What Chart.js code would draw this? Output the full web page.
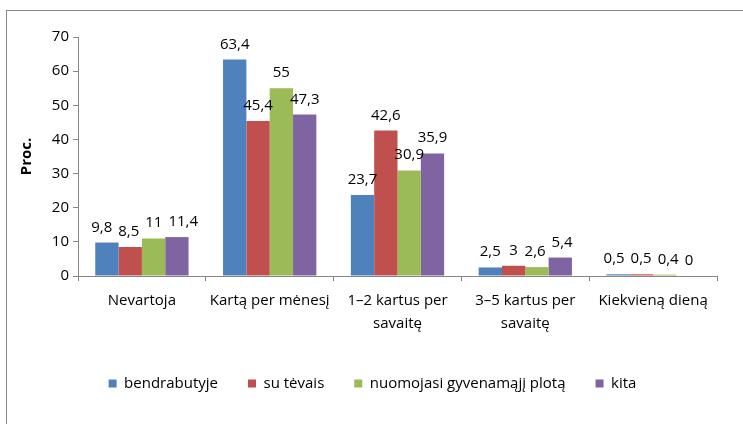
<!DOCTYPE html>
<html>
<head>
<meta charset="utf-8">
<script src="https://cdn.jsdelivr.net/npm/chart.js@4"></script>
<style>
  body { margin: 0; background: #fff; }
  #frame { position: absolute; left: 6px; top: 10px; width: 800px; height: 500px; border-top: 1px solid #868686; border-left: 1px solid #868686; }
  #wrap { position: absolute; left: 0; top: 0; width: 743px; height: 424px; }
</style>
</head>
<body>
<div id="frame"></div>
<div id="wrap"><canvas id="myChart"></canvas></div>
<script>
var categories = ['Nevartoja', 'Kartą per mėnesį', ['1–2 kartus per', 'savaitę'], ['3–5 kartus per', 'savaitę'], 'Kiekvieną dieną'];
var seriesNames = ['bendrabutyje', 'su tėvais', 'nuomojasi gyvenamąjį plotą', 'kita'];
var bendrabutyje = [9.8, 63.4, 23.7, 2.5, 0.5];
var suTevais = [8.5, 45.4, 42.6, 3, 0.5];
var nuomojasi = [11, 55, 30.9, 2.6, 0.4];
var kita = [11.4, 47.3, 35.9, 5.4, 0];
var yTicks = [0, 10, 20, 30, 40, 50, 60, 70];
var colors = ['#4F81BD', '#C0504D', '#9BBB59', '#8064A2'];

var fontFamily = '"Open Sans", sans-serif';
var axisColor = '#868686';

function fmt(v) {
    return String(v).replace('.', ',');
}

// labels above each bar, pushed apart when they collide (like Excel does)
var barLabels = {
    id: 'barLabels',
    afterDatasetsDraw: function(chart) {
        var ctx = chart.ctx;
        ctx.save();
        ctx.font = '15px ' + fontFamily;
        ctx.fillStyle = '#000';
        ctx.textAlign = 'center';
        ctx.textBaseline = 'alphabetic';
        var n = chart.data.labels.length;
        for (var j = 0; j < n; j++) {
            var items = [];
            chart.data.datasets.forEach(function(ds, i) {
                var bar = chart.getDatasetMeta(i).data[j];
                var txt = fmt(ds.data[j]);
                items.push({ txt: txt, x: bar.x, y: bar.y - 11, w: ctx.measureText(txt).width });
            });
            for (var k = 0; k < 20; k++) {
                for (var m = 0; m < items.length - 1; m++) {
                    var a = items[m], b = items[m + 1];
                    if (Math.abs(a.y - b.y) > 16) continue;
                    var over = (a.x + a.w / 2 + 6) - (b.x - b.w / 2);
                    if (over > 0) {
                        a.x -= over / 2;
                        b.x += over / 2;
                    }
                }
            }
            items.forEach(function(it) {
                ctx.fillText(it.txt, it.x, it.y);
            });
        }
        ctx.restore();
    }
};

// Excel centres the legend on the whole picture, not the plot
var legendShift = {
    id: 'legendShift',
    afterLayout: function(chart) {
        chart.legend.left += 14;
        chart.legend.right += 14;
    }
};

var allSeries = [bendrabutyje, suTevais, nuomojasi, kita];
var datasets = allSeries.map(function(vals, i) {
    return {
        label: seriesNames[i],
        data: vals,
        backgroundColor: colors[i],
        borderWidth: 0,
        categoryPercentage: 0.73,
        barPercentage: 1
    };
});

var context = document.getElementById('myChart').getContext('2d');
var myChart = new Chart(context, {
    type: 'bar',
    data: {
        labels: categories,
        datasets: datasets
    },
    plugins: [barLabels, legendShift],
    options: {
        responsive: true,
        maintainAspectRatio: false,
        animation: false,
        layout: {
            padding: { left: 0, right: 26, top: 37, bottom: 23 }
        },
        plugins: {
            legend: {
                position: 'bottom',
                labels: {
                    boxWidth: 8,
                    boxHeight: 8,
                    padding: 30,
                    color: '#000',
                    font: { family: fontFamily, size: 15 }
                }
            },
            tooltip: { enabled: false }
        },
        scales: {
            x: {
                grid: {
                    display: true,
                    offset: true,
                    drawOnChartArea: false,
                    color: axisColor,
                    tickLength: 5
                },
                border: { color: axisColor },
                ticks: {
                    color: '#000',
                    maxRotation: 0,
                    autoSkip: false,
                    padding: 8,
                    font: { family: fontFamily, size: 15, lineHeight: 1.55 }
                },
                afterFit: function(scale) {
                    scale.height = 70;
                }
            },
            y: {
                min: 0,
                max: 70,
                afterBuildTicks: function(scale) {
                    scale.ticks = yTicks.map(function(v) { return { value: v }; });
                },
                grid: {
                    display: true,
                    drawOnChartArea: false,
                    color: axisColor,
                    tickLength: 5
                },
                border: { color: axisColor },
                ticks: {
                    color: '#000',
                    padding: 4,
                    font: { family: fontFamily, size: 15 }
                },
                title: {
                    display: true,
                    text: 'Proc.',
                    color: '#000',
                    font: { family: fontFamily, size: 15, weight: 'bold' },
                    padding: { top: 18, bottom: 0 }
                },
                afterFit: function(scale) {
                    scale.width = 78;
                }
            }
        }
    }
});
</script>
</body>
</html>
